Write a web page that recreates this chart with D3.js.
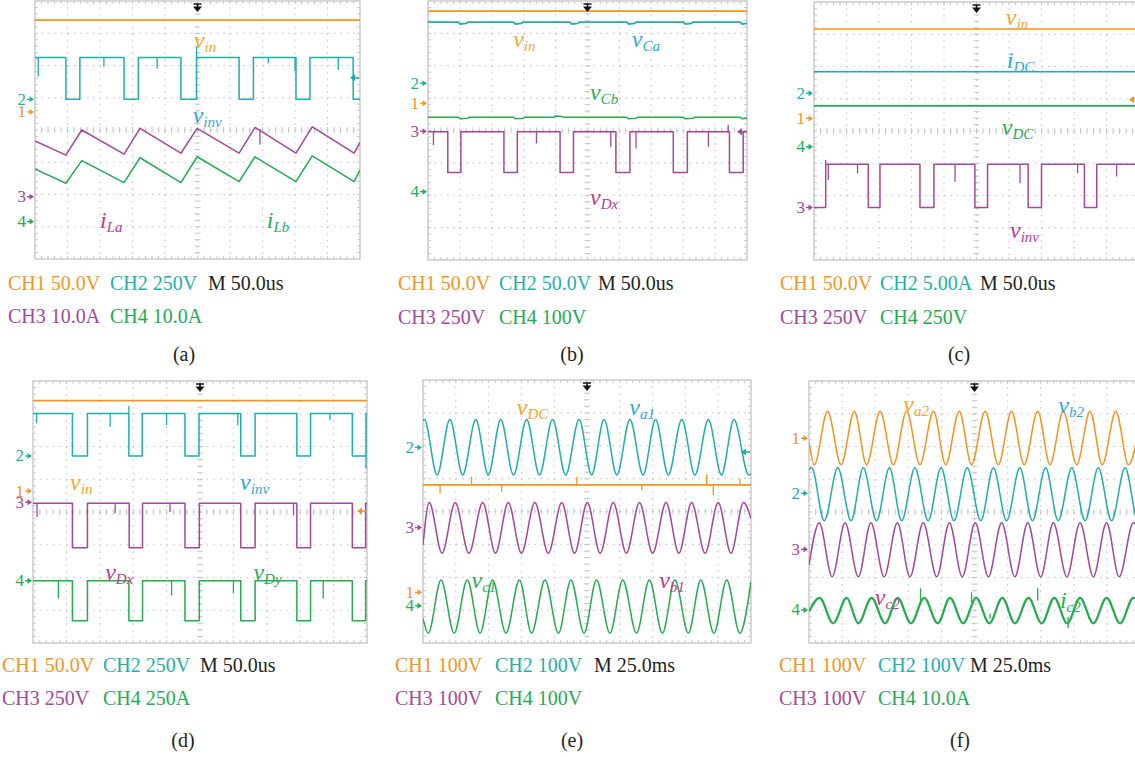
<!DOCTYPE html>
<html>
<head>
<meta charset="utf-8">
<script src="https://cdn.jsdelivr.net/npm/d3@7"></script>
<style>
  body { margin: 0; background: #fff; }
  svg { display: block; }
  text { font-family: "Liberation Serif", "Times New Roman", serif; }
</style>
</head>
<body>
<svg id="fig" width="1135" height="757"></svg>
<script>
// ---------------------------------------------------------------
// Oscilloscope captures (a)–(f). All values are in screen divisions:
// time 0..10 div, amplitude -4..+4 div (0 = centre line).
// ---------------------------------------------------------------

// ----- (a) -----
const a_settings = ["CH1 50.0V", "CH2 250V", "M 50.0us", "CH3 10.0A", "CH4 10.0A"];
const a_ch1 = [[0, 3.41], [10, 3.41]];
const a_ch2_edges = [0.95, 1.38, 2.74, 3.18, 4.49, 4.97, 6.28, 6.72, 8.03, 8.46, 9.79];
const a_ch2_levels = [2.25, 0.95];
const a_ch2_spikes = [[0.10, 2.25, 1.66], [2.12, 2.25, 1.96], [3.76, 2.25, 1.91], [4.97, 2.25, 2.58], [7.18, 2.25, 2.07], [8.00, 2.25, 1.84], [9.33, 2.25, 1.86]];
const a_ch3 = [[0, -0.34], [0.95, -0.78], [1.44, 0.0], [2.74, -0.75], [3.23, 0.05], [4.49, -0.72], [4.99, 0.05], [6.28, -0.72], [6.77, 0.08], [8.03, -0.72], [8.53, 0.10], [9.82, -0.72], [10, -0.39]];
const a_ch3_spikes = [[6.92, 0.03, -0.45]];
const a_ch4 = [[0, -1.21], [0.95, -1.65], [1.44, -0.95], [2.74, -1.63], [3.23, -0.86], [4.49, -1.63], [4.99, -0.83], [6.28, -1.60], [6.77, -0.83], [8.03, -1.60], [8.53, -0.80], [9.82, -1.60], [10, -1.24]];
const a_refs = [0.56, 0.95, -2.07, -2.84];
const a_trigger = [2, 1.62];
const a_labels = [["v", "in", 4.89, 2.54], ["v", "inv", 4.85, 0.21], ["i", "La", 2.0, -3.04], ["i", "Lb", 7.13, -3.04]];

// ----- (b) -----
const b_settings = ["CH1 50.0V", "CH2 50.0V", "M 50.0us", "CH3 250V", "CH4 100V"];
const b_ch1 = [[0, 3.69], [10, 3.69]];
const b_ch2 = [[0, 3.35], [0.95, 3.35], [1.0, 3.29], [1.2, 3.31], [1.25, 3.35], [2.68, 3.35], [2.73, 3.29], [2.93, 3.31], [2.98, 3.35], [4.45, 3.35], [4.5, 3.29], [4.7, 3.31], [4.75, 3.35], [6.23, 3.35], [6.28, 3.29], [6.48, 3.31], [6.53, 3.35], [8.01, 3.35], [8.06, 3.29], [8.26, 3.31], [8.31, 3.35], [9.79, 3.35], [9.84, 3.29], [10, 3.31]];
const b_ch3_edges = [0.62, 1.03, 2.38, 2.80, 4.14, 4.56, 5.89, 6.33, 7.69, 8.13, 9.45, 9.88];
const b_ch3_levels = [-0.04, -1.30];
const b_ch3_spikes = [[0.17, -0.04, -0.45], [3.40, -0.04, -0.40], [5.73, -0.04, -0.50], [6.52, -0.04, -0.55], [8.79, -0.04, -0.50], [9.41, -0.04, 0.17]];
const b_ch4 = [[0, 0.41], [0.95, 0.41], [1.0, 0.36], [1.25, 0.38], [1.3, 0.41], [2.68, 0.41], [2.73, 0.36], [2.98, 0.38], [3.03, 0.41], [3.95, 0.41], [4.0, 0.45], [4.2, 0.43], [4.25, 0.41], [6.23, 0.41], [6.28, 0.36], [6.53, 0.38], [6.58, 0.41], [8.01, 0.41], [8.06, 0.36], [8.31, 0.38], [8.36, 0.41], [9.79, 0.41], [9.84, 0.36], [10, 0.38]];
const b_refs = [0.84, 1.46, -0.02, -1.89];
const b_trigger = [3, -0.04];
const b_labels = [["v", "in", 2.67, 2.59], ["v", "Ca", 6.39, 2.59], ["v", "Cb", 5.08, 0.94], ["v", "Dx", 5.08, -2.30]];

// ----- (c) -----
const c_settings = ["CH1 50.0V", "CH2 5.00A", "M 50.0us", "CH3 250V", "CH4 250V"];
const c_ch1 = [[0, 3.16], [10, 3.16]];
const c_ch2 = [[0, 1.84], [10, 1.84]];
const c_ch3_edges = [0.36, 1.67, 2.03, 3.26, 3.69, 4.95, 5.34, 6.59, 7.00, 8.32, 8.70];
const c_ch3_levels = [-1.03, -2.37];
const c_ch3_spikes = [[0.36, -1.03, -0.90], [0.44, -1.03, -1.52], [1.34, -1.03, -1.31], [4.34, -1.03, -1.57], [6.34, -1.03, -1.62], [8.11, -1.03, -1.31], [9.31, -1.03, -1.41]];
const c_ch4 = [[0, 0.78], [10, 0.78]];
const c_refs = [0.39, 1.17, -2.37, -0.49];
const c_trigger = [1, 0.98];
const c_labels = [["v", "in", 5.90, 3.29], ["i", "DC", 5.93, 1.94], ["v", "DC", 5.78, -0.12], ["v", "inv", 6.03, -3.33]];

// ----- (d) -----
const d_settings = ["CH1 50.0V", "CH2 250V", "M 50.0us", "CH3 250V", "CH4 250A"];
const d_ch1 = [[0, 3.40], [10, 3.40]];
const d_ch2_edges = [1.18, 1.63, 2.87, 3.27, 4.55, 4.97, 6.22, 6.65, 7.90, 8.31, 9.56, 9.97];
const d_ch2_levels = [3.01, 1.71];
const d_ch2_spikes = [[0.11, 3.01, 2.71], [2.31, 3.01, 2.60], [2.87, 3.01, 3.24], [4.00, 3.01, 2.65], [6.13, 3.01, 2.65], [8.89, 3.01, 2.81], [9.97, 1.71, 1.33]];
const d_ch3_edges = [1.18, 1.63, 2.88, 3.28, 4.55, 4.98, 6.22, 6.65, 7.90, 8.31, 9.56, 9.96];
const d_ch3_levels = [0.27, -1.09];
const d_ch3_spikes = [[0.12, 0.27, -0.15], [2.46, 0.27, -0.04], [4.10, 0.27, 0.0], [7.80, 0.27, -0.10]];
const d_ch4_edges = [1.18, 1.63, 2.87, 3.28, 4.55, 4.98, 6.22, 6.65, 7.90, 8.31, 9.56, 9.96];
const d_ch4_levels = [-2.10, -3.32];
const d_ch4_spikes = [[0.76, -2.10, -2.64], [4.15, -2.10, -2.54], [6.00, -2.10, -2.49], [8.69, -2.10, -2.64]];
const d_refs = [0.64, 1.71, 0.30, -2.10];
const d_trigger = [1, 0.03];
const d_labels = [["v", "in", 1.11, 0.67], ["v", "inv", 6.20, 0.67], ["v", "Dx", 2.16, -2.08], ["v", "Dy", 6.60, -2.08]];

// ----- (e) -----
const e_settings = ["CH1 100V", "CH2 100V", "M 25.0ms", "CH3 100V", "CH4 100V"];
const e_ch1 = [[0, 0.81], [10, 0.81]];
const e_ch1_spikes = [[0.52, 0.81, 0.55], [1.48, 0.81, 1.06], [2.40, 0.81, 0.60], [4.69, 0.81, 1.06], [6.67, 0.81, 0.65], [8.65, 0.81, 1.13], [8.85, 0.81, 0.50], [9.66, 0.81, 0.99]];
const e_ch2 = [[0, 2.76], [0.04, 2.80], [0.43, 1.11], [0.82, 2.80], [1.21, 1.11], [1.61, 2.80], [1.99, 1.11], [2.37, 2.80], [2.76, 1.11], [3.16, 2.80], [3.55, 1.11], [3.95, 2.80], [4.35, 1.11], [4.76, 2.80], [5.14, 1.11], [5.52, 2.80], [5.91, 1.11], [6.31, 2.80], [6.71, 1.11], [7.09, 2.80], [7.48, 1.11], [7.89, 2.80], [8.29, 1.11], [8.70, 2.80], [9.10, 1.11], [9.48, 2.80], [9.93, 1.11], [10, 1.15]];
const e_ch3 = [[0, -1.02], [0.19, 0.27], [0.58, -1.27], [0.98, 0.27], [1.40, -1.27], [1.82, 0.27], [2.21, -1.27], [2.60, 0.27], [3.00, -1.27], [3.41, 0.27], [3.82, -1.27], [4.23, 0.27], [4.62, -1.27], [5.01, 0.27], [5.40, -1.27], [5.80, 0.27], [6.20, -1.27], [6.60, 0.27], [7.00, -1.27], [7.41, 0.27], [7.80, -1.27], [8.19, 0.27], [8.60, -1.27], [9.00, 0.27], [9.39, -1.27], [9.77, 0.27], [10, -0.21]];
const e_ch4 = [[0, -3.25], [0.16, -3.70], [0.55, -2.08], [0.95, -3.70], [1.35, -2.08], [1.74, -3.70], [2.12, -2.08], [2.53, -3.70], [2.94, -2.08], [3.31, -3.70], [3.72, -2.08], [4.13, -3.70], [4.51, -2.08], [4.91, -3.70], [5.29, -2.08], [5.70, -3.70], [6.09, -2.08], [6.51, -3.70], [6.90, -2.08], [7.30, -3.70], [7.68, -2.08], [8.09, -3.70], [8.47, -2.08], [8.87, -3.70], [9.26, -2.08], [9.66, -3.70], [10, -2.13]];
const e_refs = [-2.46, 1.95, -0.49, -2.87];
const e_trigger = [2, 1.81];
const e_labels = [["v", "DC", 2.86, 2.94], ["v", "a1", 6.29, 2.94], ["v", "c1", 1.48, -2.34], ["v", "b1", 7.20, -2.34]];

// ----- (f) -----
const f_settings = ["CH1 100V", "CH2 100V", "M 25.0ms", "CH3 100V", "CH4 10.0A"];
const f_ch1 = [[0, 2.15], [0.16, 1.44], [0.56, 3.08], [0.97, 1.44], [1.37, 3.08], [1.74, 1.44], [2.15, 3.08], [2.55, 1.44], [2.95, 3.08], [3.35, 1.44], [3.76, 3.08], [4.13, 1.44], [4.54, 3.08], [4.91, 1.44], [5.32, 3.08], [5.72, 1.44], [6.12, 3.08], [6.50, 1.44], [6.91, 3.08], [7.28, 1.44], [7.68, 3.08], [8.09, 1.44], [8.49, 3.08], [8.86, 1.44], [9.27, 3.08], [9.65, 1.44], [10, 2.70]];
const f_ch2 = [[0, 1.30], [0.08, 1.35], [0.46, -0.27], [0.87, 1.35], [1.27, -0.27], [1.64, 1.35], [2.04, -0.27], [2.43, 1.35], [2.80, -0.27], [3.20, 1.35], [3.60, -0.27], [3.99, 1.35], [4.38, -0.27], [4.78, 1.35], [5.19, -0.27], [5.57, 1.35], [5.97, -0.27], [6.37, 1.35], [6.75, -0.27], [7.15, 1.35], [7.53, -0.27], [7.94, 1.35], [8.34, -0.27], [8.74, 1.35], [9.14, -0.27], [9.55, 1.35], [9.94, -0.27], [10, -0.20]];
const f_ch3 = [[0, -1.62], [0.31, -0.33], [0.70, -1.98], [1.09, -0.33], [1.49, -1.98], [1.87, -0.33], [2.27, -1.98], [2.67, -0.33], [3.05, -1.98], [3.45, -0.33], [3.86, -1.98], [4.24, -0.33], [4.63, -1.98], [5.02, -0.33], [5.42, -1.98], [5.82, -0.33], [6.22, -1.98], [6.61, -0.33], [7.00, -1.98], [7.38, -0.33], [7.79, -1.98], [8.19, -0.33], [8.59, -1.98], [8.99, -0.33], [9.37, -1.98], [9.80, -0.33], [10, -0.60]];
const f_ch4 = [[0, -3.04], [0.32, -2.62], [0.73, -3.40], [1.14, -2.62], [1.49, -3.40], [1.89, -2.62], [2.30, -3.40], [2.68, -2.62], [3.08, -3.40], [3.48, -2.62], [3.89, -3.40], [4.26, -2.62], [4.66, -3.40], [5.05, -2.62], [5.45, -3.40], [5.84, -2.62], [6.22, -3.40], [6.63, -2.62], [7.03, -3.40], [7.41, -2.62], [7.80, -3.40], [8.19, -2.62], [8.59, -3.40], [8.99, -2.62], [9.40, -3.40], [9.80, -2.62], [10, -2.80]];
const f_ch4_spikes = [[3.37, -2.70, -2.33], [4.91, -2.75, -2.45], [5.47, -3.10, -3.25], [6.91, -2.70, -2.33], [7.83, -3.20, -3.55]];
const f_refs = [2.25, 0.57, -1.14, -2.99];
const f_labels = [["v", "a2", 2.85, 3.06], ["v", "b2", 7.53, 3.01], ["v", "c2", 1.99, -2.84], ["i", "c2", 7.58, -2.94]];

// ---------------------------------------------------------------
// Styling
// ---------------------------------------------------------------
const CH = ["#F7941E", "#1DB0AB", "#A5479A", "#23AC50"];   // trace / channel colours
const LBL = { o: "#F8A628", b: "#2BA9E1", m: "#C2388F", g: "#2BAA57" };
const GRID = "#c3c3c3";

// square wave helper: toggles between the two read levels at each edge
function square(edges, levels, startHigh) {
  const [hi, lo] = levels;
  let cur = startHigh ? hi : lo;
  const pts = [[0, cur]];
  edges.forEach(e => {
    pts.push([e, cur]);
    cur = cur === hi ? lo : hi;
    pts.push([e, cur]);
  });
  pts.push([10, cur]);
  return pts;
}

// panel layout (pixel boxes of each graticule and its caption block)
const frames = [
  { key: "a", x0: 35, x1: 360, y0: 1, y1: 259, setX: [8, 110, 208], rows: [290, 323], cap: [184, 361],
    settings: a_settings, refs: a_refs, trigger: a_trigger, labels: a_labels, lcol: [LBL.o, LBL.b, LBL.m, LBL.g],
    traces: [
      { ch: 1, pts: a_ch1, w: 1.8 },
      { ch: 2, pts: square(a_ch2_edges, a_ch2_levels, true), spikes: a_ch2_spikes },
      { ch: 3, pts: a_ch3, spikes: a_ch3_spikes },
      { ch: 4, pts: a_ch4 }
    ] },
  { key: "b", x0: 428, x1: 747, y0: 1, y1: 260, setX: [398, 499, 598], rows: [290, 324], cap: [572, 361],
    settings: b_settings, refs: b_refs, trigger: b_trigger, labels: b_labels, lcol: [LBL.o, LBL.b, LBL.g, LBL.m],
    traces: [
      { ch: 1, pts: b_ch1, w: 1.8 },
      { ch: 2, pts: b_ch2, w: 1.8 },
      { ch: 4, pts: b_ch4 },
      { ch: 3, pts: square(b_ch3_edges, b_ch3_levels, true), spikes: b_ch3_spikes }
    ] },
  { key: "c", x0: 814, x1: 1139, y0: 2, y1: 260, setX: [780, 880, 980], rows: [290, 324], cap: [959, 361],
    settings: c_settings, refs: c_refs, trigger: c_trigger, labels: c_labels, lcol: [LBL.o, LBL.b, LBL.g, LBL.m],
    traces: [
      { ch: 1, pts: c_ch1 },
      { ch: 2, pts: c_ch2 },
      { ch: 4, pts: c_ch4, w: 1.8 },
      { ch: 3, pts: square(c_ch3_edges, c_ch3_levels, false), spikes: c_ch3_spikes }
    ] },
  { key: "d", x0: 33, x1: 367, y0: 381, y1: 643, setX: [2, 103, 200], rows: [672, 705], cap: [183, 747],
    settings: d_settings, refs: d_refs, trigger: d_trigger, labels: d_labels, lcol: [LBL.o, LBL.b, LBL.m, LBL.g],
    traces: [
      { ch: 1, pts: d_ch1, w: 1.8 },
      { ch: 2, pts: square(d_ch2_edges, d_ch2_levels, true), spikes: d_ch2_spikes },
      { ch: 3, pts: square(d_ch3_edges, d_ch3_levels, true), spikes: d_ch3_spikes },
      { ch: 4, pts: square(d_ch4_edges, d_ch4_levels, true), spikes: d_ch4_spikes }
    ] },
  { key: "e", x0: 423, x1: 751, y0: 380, y1: 643, setX: [395, 495, 594], rows: [672, 705], cap: [572, 747],
    settings: e_settings, refs: e_refs, trigger: e_trigger, labels: e_labels, lcol: [LBL.o, LBL.b, LBL.g, LBL.m],
    traces: [
      { ch: 2, pts: e_ch2, smooth: true },
      { ch: 1, pts: e_ch1, spikes: e_ch1_spikes, w: 1.8 },
      { ch: 3, pts: e_ch3, smooth: true },
      { ch: 4, pts: e_ch4, smooth: true }
    ] },
  { key: "f", x0: 809, x1: 1140, y0: 381, y1: 643, setX: [779, 878, 970], rows: [672, 705], cap: [960, 747],
    settings: f_settings, refs: f_refs, trigger: null, labels: f_labels, lcol: [LBL.o, LBL.b, LBL.m, LBL.g],
    traces: [
      { ch: 1, pts: f_ch1, smooth: true },
      { ch: 2, pts: f_ch2, smooth: true },
      { ch: 3, pts: f_ch3, smooth: true },
      { ch: 4, pts: f_ch4, smooth: true, spikes: f_ch4_spikes, w: 2.2 }
    ] }
];

const svg = d3.select("#fig");
const defs = svg.append("defs");

frames.forEach(f => {
  const x = d3.scaleLinear().domain([0, 10]).range([f.x0, f.x1]);
  const y = d3.scaleLinear().domain([-4, 4]).range([f.y1, f.y0]);
  const g = svg.append("g").attr("class", "panel-" + f.key);

  defs.append("clipPath").attr("id", "clip-" + f.key)
    .append("rect").attr("x", f.x0).attr("y", f.y0)
    .attr("width", f.x1 - f.x0).attr("height", f.y1 - f.y0);

  // ---- graticule ----
  const grid = g.append("g").attr("stroke", GRID).attr("fill", "none");
  const stepX = x(0.2) - x(0), stepY = y(0) - y(0.2);
  d3.range(1, 10).forEach(i => {
    grid.append("line").attr("x1", x(i)).attr("x2", x(i)).attr("y1", f.y0).attr("y2", f.y1)
      .attr("stroke-width", 1.1).attr("stroke-dasharray", `1.4,${(stepY - 1.4).toFixed(2)}`);
  });
  d3.range(-3, 4).forEach(j => {
    grid.append("line").attr("x1", f.x0).attr("x2", f.x1).attr("y1", y(j)).attr("y2", y(j))
      .attr("stroke-width", 1.1).attr("stroke-dasharray", `1.4,${(stepX - 1.4).toFixed(2)}`);
  });
  // minor ticks on the border and on the centre axes
  const minorX = d3.range(0.2, 10, 0.2), minorY = d3.range(-3.8, 4, 0.2);
  minorX.forEach(t => {
    const px = x(t);
    grid.append("line").attr("x1", px).attr("x2", px).attr("y1", f.y0).attr("y2", f.y0 + 3).attr("stroke-width", 0.9);
    grid.append("line").attr("x1", px).attr("x2", px).attr("y1", f.y1).attr("y2", f.y1 - 3).attr("stroke-width", 0.9);
    grid.append("line").attr("x1", px).attr("x2", px).attr("y1", y(0) - 3).attr("y2", y(0) + 3).attr("stroke-width", 0.9);
  });
  minorY.forEach(t => {
    const py = y(t);
    grid.append("line").attr("x1", f.x0).attr("x2", f.x0 + 3).attr("y1", py).attr("y2", py).attr("stroke-width", 0.9);
    grid.append("line").attr("x1", f.x1).attr("x2", f.x1 - 3).attr("y1", py).attr("y2", py).attr("stroke-width", 0.9);
    grid.append("line").attr("x1", x(5) - 3).attr("x2", x(5) + 3).attr("y1", py).attr("y2", py).attr("stroke-width", 0.9);
  });
  grid.append("rect").attr("x", f.x0).attr("y", f.y0)
    .attr("width", f.x1 - f.x0).attr("height", f.y1 - f.y0).attr("stroke-width", 1.3);

  // ---- traces ----
  const plot = g.append("g").attr("clip-path", `url(#clip-${f.key})`);
  f.traces.forEach(t => {
    const line = d3.line().x(d => x(d[0])).y(d => y(d[1]))
      .curve(t.smooth ? d3.curveMonotoneX : d3.curveLinear);
    const col = CH[t.ch - 1];
    plot.append("path").datum(t.pts).attr("d", line)
      .attr("fill", "none").attr("stroke", col).attr("stroke-width", t.w || 1.5)
      .attr("stroke-linejoin", "round");
    if (t.spikes) {
      plot.selectAll(null).data(t.spikes).join("line")
        .attr("x1", d => x(d[0])).attr("x2", d => x(d[0]))
        .attr("y1", d => y(d[1])).attr("y2", d => y(d[2]))
        .attr("stroke", col).attr("stroke-width", 1.3);
    }
  });

  // ---- trigger position arrow (top centre) ----
  const tx = x(5);
  g.append("path").attr("d", `M${tx - 4},${f.y0 + 3}h8M${tx},${f.y0 + 3}v4`)
    .attr("stroke", "#111").attr("stroke-width", 1.6);
  g.append("path").attr("d", `M${tx - 4.5},${f.y0 + 5.5}L${tx + 4.5},${f.y0 + 5.5}L${tx},${f.y0 + 11}Z`)
    .attr("fill", "#111");

  // ---- trigger level marker (right edge) ----
  if (f.trigger) {
    const py = y(f.trigger[1]), col = CH[f.trigger[0] - 1], rx = f.x1 - 1;
    g.append("path").attr("d", `M${rx},${py}h-6`).attr("stroke", col).attr("stroke-width", 1.6);
    g.append("path").attr("d", `M${rx - 4},${py - 3.5}L${rx - 9},${py}L${rx - 4},${py + 3.5}Z`).attr("fill", col);
  }

  // ---- channel ground markers (left edge) ----
  f.refs.forEach((lv, i) => {
    const py = y(lv), col = CH[i];
    g.append("text").attr("x", f.x0 - 9).attr("y", py + 5.5).attr("text-anchor", "end")
      .attr("font-size", 17).attr("fill", col).text(String(i + 1));
    g.append("path").attr("d", `M${f.x0 - 8},${py}h3`).attr("stroke", col).attr("stroke-width", 1.3);
    g.append("path").attr("d", `M${f.x0 - 5.5},${py - 3}L${f.x0 - 1},${py}L${f.x0 - 5.5},${py + 3}Z`).attr("fill", col);
  });

  // ---- signal names ----
  f.labels.forEach((lb, i) => {
    const t = g.append("text").attr("x", x(lb[2])).attr("y", y(lb[3]))
      .attr("fill", f.lcol[i]).attr("font-style", "italic");
    t.append("tspan").attr("font-size", 24).text(lb[0]);
    t.append("tspan").attr("font-size", 15).attr("dy", 4).text(lb[1]);
  });

  // ---- channel settings and caption ----
  const setCol = [CH[0], CH[1], "#231F20", CH[2], CH[3]];
  const pos = [[f.setX[0], f.rows[0]], [f.setX[1], f.rows[0]], [f.setX[2], f.rows[0]],
               [f.setX[0], f.rows[1]], [f.setX[1], f.rows[1]]];
  f.settings.forEach((s, i) => {
    g.append("text").attr("x", pos[i][0]).attr("y", pos[i][1])
      .attr("font-size", 20).attr("fill", setCol[i]).text(s);
  });
  g.append("text").attr("x", f.cap[0]).attr("y", f.cap[1]).attr("text-anchor", "middle")
    .attr("font-size", 20).attr("fill", "#231F20").text(`(${f.key})`);
});
</script>
</body>
</html>
